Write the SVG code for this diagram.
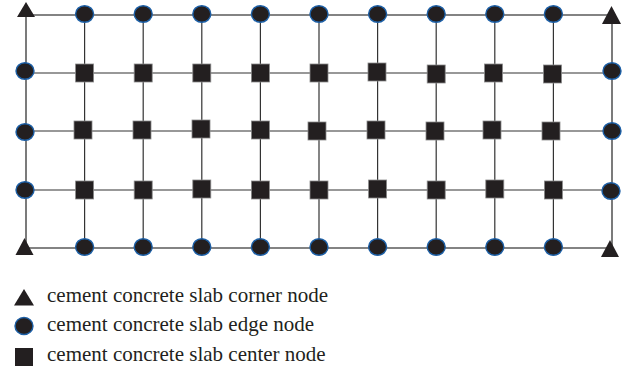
<svg xmlns="http://www.w3.org/2000/svg" width="633" height="373" viewBox="0 0 633 373">
<style>
.frame{stroke:#5a5a5a;stroke-width:1.6;fill:none}
.inner{stroke:#333;stroke-width:1.2;fill:none}
.corner{fill:#231f20}
.edge{fill:#231f20;stroke:#1c5fa6;stroke-width:1.4}
.center{fill:#231f20;stroke:#8a8a8a;stroke-width:0.8}
.lbl{font-family:"Liberation Serif","Times New Roman",serif;font-size:21px;fill:#231f20}
</style>
<defs>
<ellipse id="c" rx="9" ry="8.3"/>
<rect id="s" x="-9" y="-9" width="18" height="18"/>
</defs>
<rect width="633" height="373" fill="#fff"/>
<g id="connectors">
<line class="frame" x1="26" y1="15" x2="612" y2="15"/>
<line class="frame" x1="26" y1="248" x2="612" y2="248"/>
<line class="frame" x1="26" y1="15" x2="26" y2="248"/>
<line class="frame" x1="612" y1="15" x2="612" y2="248"/>
<line class="inner" x1="26" y1="73" x2="612" y2="73"/>
<line class="inner" x1="26" y1="131" x2="612" y2="131"/>
<line class="inner" x1="26" y1="190" x2="612" y2="190"/>
<line class="inner" x1="84.6" y1="15" x2="84.6" y2="248"/>
<line class="inner" x1="143.2" y1="15" x2="143.2" y2="248"/>
<line class="inner" x1="201.8" y1="15" x2="201.8" y2="248"/>
<line class="inner" x1="260.4" y1="15" x2="260.4" y2="248"/>
<line class="inner" x1="319" y1="15" x2="319" y2="248"/>
<line class="inner" x1="377.6" y1="15" x2="377.6" y2="248"/>
<line class="inner" x1="436.2" y1="15" x2="436.2" y2="248"/>
<line class="inner" x1="494.8" y1="15" x2="494.8" y2="248"/>
<line class="inner" x1="553.4" y1="15" x2="553.4" y2="248"/>
</g>
<g id="corner-tl"><polygon class="corner" points="26,2 35,17 17,17"/></g>
<g id="corner-tr"><polygon class="corner" points="611.5,6 621,24 602,24"/></g>
<g id="corner-bl"><polygon class="corner" points="24.5,238 33.5,255 15.5,255"/></g>
<g id="corner-br"><polygon class="corner" points="610,240 619,257 601,257"/></g>
<g id="edge-t1"><use href="#c" class="edge" x="84.6" y="14"/></g>
<g id="edge-t2"><use href="#c" class="edge" x="143.2" y="14"/></g>
<g id="edge-t3"><use href="#c" class="edge" x="201.8" y="14"/></g>
<g id="edge-t4"><use href="#c" class="edge" x="260.4" y="14"/></g>
<g id="edge-t5"><use href="#c" class="edge" x="319" y="14"/></g>
<g id="edge-t6"><use href="#c" class="edge" x="377.6" y="14"/></g>
<g id="edge-t7"><use href="#c" class="edge" x="436.2" y="14"/></g>
<g id="edge-t8"><use href="#c" class="edge" x="494.8" y="14"/></g>
<g id="edge-t9"><use href="#c" class="edge" x="553.4" y="14"/></g>
<g id="edge-b1"><use href="#c" class="edge" x="84.6" y="247"/></g>
<g id="edge-b2"><use href="#c" class="edge" x="143.2" y="247"/></g>
<g id="edge-b3"><use href="#c" class="edge" x="201.8" y="247"/></g>
<g id="edge-b4"><use href="#c" class="edge" x="260.4" y="247"/></g>
<g id="edge-b5"><use href="#c" class="edge" x="319" y="247"/></g>
<g id="edge-b6"><use href="#c" class="edge" x="377.6" y="247"/></g>
<g id="edge-b7"><use href="#c" class="edge" x="436.2" y="247"/></g>
<g id="edge-b8"><use href="#c" class="edge" x="494.8" y="247"/></g>
<g id="edge-b9"><use href="#c" class="edge" x="553.4" y="247"/></g>
<g id="edge-l1"><use href="#c" class="edge" x="25" y="71"/></g>
<g id="edge-l2"><use href="#c" class="edge" x="25" y="132"/></g>
<g id="edge-l3"><use href="#c" class="edge" x="25" y="190"/></g>
<g id="edge-r1"><use href="#c" class="edge" x="612" y="71"/></g>
<g id="edge-r2"><use href="#c" class="edge" x="612" y="131"/></g>
<g id="edge-r3"><use href="#c" class="edge" x="611" y="191"/></g>
<g id="center-r1c1"><use href="#s" class="center" x="84.6" y="73"/></g>
<g id="center-r1c2"><use href="#s" class="center" x="143.2" y="73"/></g>
<g id="center-r1c3"><use href="#s" class="center" x="201.8" y="73"/></g>
<g id="center-r1c4"><use href="#s" class="center" x="260.4" y="73"/></g>
<g id="center-r1c5"><use href="#s" class="center" x="319" y="73"/></g>
<g id="center-r1c6"><use href="#s" class="center" x="377" y="72"/></g>
<g id="center-r1c7"><use href="#s" class="center" x="436.2" y="74"/></g>
<g id="center-r1c8"><use href="#s" class="center" x="493.5" y="73"/></g>
<g id="center-r1c9"><use href="#s" class="center" x="552.5" y="74"/></g>
<g id="center-r2c1"><use href="#s" class="center" x="83" y="130"/></g>
<g id="center-r2c2"><use href="#s" class="center" x="142" y="130"/></g>
<g id="center-r2c3"><use href="#s" class="center" x="201" y="129"/></g>
<g id="center-r2c4"><use href="#s" class="center" x="260.4" y="130"/></g>
<g id="center-r2c5"><use href="#s" class="center" x="317" y="131"/></g>
<g id="center-r2c6"><use href="#s" class="center" x="376" y="130"/></g>
<g id="center-r2c7"><use href="#s" class="center" x="435" y="131"/></g>
<g id="center-r2c8"><use href="#s" class="center" x="492" y="130"/></g>
<g id="center-r2c9"><use href="#s" class="center" x="551" y="131"/></g>
<g id="center-r3c1"><use href="#s" class="center" x="84.6" y="190"/></g>
<g id="center-r3c2"><use href="#s" class="center" x="143.2" y="190"/></g>
<g id="center-r3c3"><use href="#s" class="center" x="201.8" y="189"/></g>
<g id="center-r3c4"><use href="#s" class="center" x="260.4" y="190"/></g>
<g id="center-r3c5"><use href="#s" class="center" x="319" y="190"/></g>
<g id="center-r3c6"><use href="#s" class="center" x="377.6" y="189"/></g>
<g id="center-r3c7"><use href="#s" class="center" x="436.2" y="190"/></g>
<g id="center-r3c8"><use href="#s" class="center" x="494.8" y="189"/></g>
<g id="center-r3c9"><use href="#s" class="center" x="553.4" y="190"/></g>
<g id="legend">
<polygon class="corner" points="24,289 34,305.5 14,305.5"/>
<ellipse class="edge" cx="24" cy="326" rx="9" ry="8.5"/>
<rect class="corner" x="15" y="348" width="18" height="18"/>
<text class="lbl" x="47" y="302">cement concrete slab corner node</text>
<text class="lbl" x="47" y="331">cement concrete slab edge node</text>
<text class="lbl" x="47" y="360.5">cement concrete slab center node</text>
</g>
</svg>
